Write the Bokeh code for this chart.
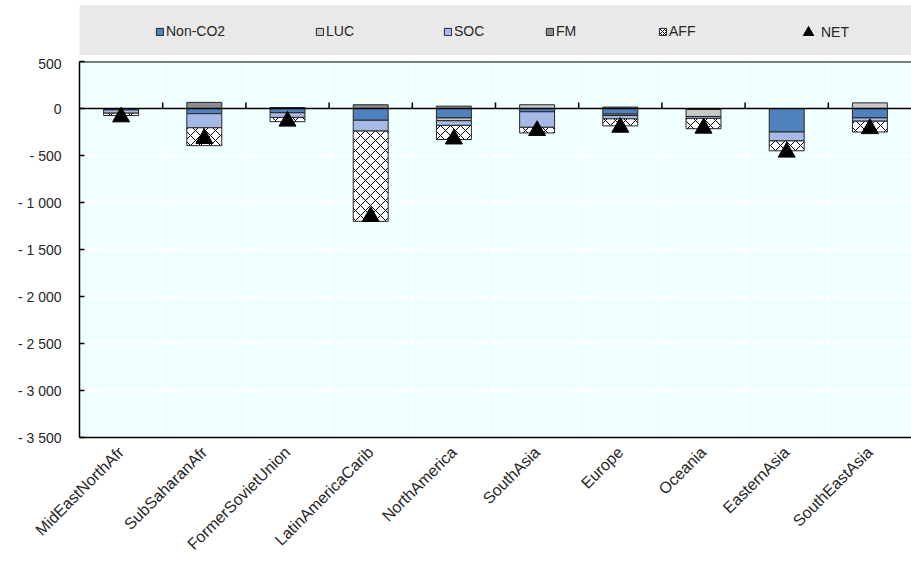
import numpy as np
from bokeh.plotting import figure
from bokeh.layouts import column
from bokeh.models import (ColumnDataSource, Legend, LegendItem, FixedTicker,
                          CustomJSTickFormatter, Span)
from bokeh.embed import file_html
from bokeh.resources import INLINE

# regions and emission components
regions = ["MidEastNorthAfr", "SubSaharanAfr", "FormerSovietUnion", "LatinAmericaCarib",
           "NorthAmerica", "SouthAsia", "Europe", "Oceania", "EasternAsia", "SouthEastAsia"]
non_co2 = [-15, -55, -45, -125, -100, -35, -60, -10, -250, -100]
luc = [0, 0, 0, 0, -30, 40, -15, -75, 0, 60]
soc = [-35, -150, -50, -115, -50, -165, -35, -20, -95, -35]
fm = [0, 65, 10, 40, 25, 0, 15, 0, 0, 0]
aff = [-25, -190, -45, -960, -150, -60, -75, -110, -105, -115]
net = [-90, -320, -135, -1150, -325, -235, -200, -210, -465, -215]

y_ticks = [-3500, -3000, -2500, -2000, -1500, -1000, -500, 0, 500]

FONT = "'Liberation Sans', Arial, sans-serif"
TXT = "#262626"

series = [
    ("Non-CO2", non_co2, "#4F81BD"),
    ("LUC", luc, "#C8C8C8"),
    ("SOC", soc, "#A7B9E6"),
    ("FM", fm, "#8C8C8C"),
    ("AFF", aff, "white"),
]

n = len(regions)
xc = np.arange(n) + 0.5

p = figure(width=911, height=506, x_range=(0, n), y_range=(-3500, 500),
           output_backend="svg", toolbar_location=None,
           min_border_left=79, min_border_right=0, min_border_top=6, min_border_bottom=120,
           background_fill_color="#F0FFFF", border_fill_color="white")
p.outline_line_color = None

# grid
p.xgrid.ticker = FixedTicker(ticks=list(range(n + 1)))
p.xgrid.grid_line_color = "white"
p.xgrid.grid_line_width = 2
p.ygrid.ticker = FixedTicker(ticks=y_ticks)
p.ygrid.grid_line_color = "white"
p.ygrid.grid_line_width = 2

# y axis
p.yaxis.ticker = FixedTicker(ticks=y_ticks)
p.yaxis.formatter = CustomJSTickFormatter(code=r"""
const a = Math.abs(tick);
const s = a.toString().replace(/\B(?=(\d{3})+(?!\d))/g, " ");
return tick < 0 ? "- " + s : s;
""")
p.yaxis.axis_line_color = "black"
p.yaxis.axis_line_width = 1.5
p.yaxis.major_tick_in = 5
p.yaxis.major_tick_out = 0
p.yaxis.major_tick_line_width = 1.5
p.yaxis.minor_tick_line_color = None
p.yaxis.major_label_text_font = FONT
p.yaxis.major_label_text_font_size = "14px"
p.yaxis.major_label_text_color = TXT
p.yaxis.major_label_standoff = 18

# x axis (labels at bottom)
p.xaxis.ticker = FixedTicker(ticks=list(xc))
p.xaxis.major_label_overrides = {float(v): r for v, r in zip(xc, regions)}
p.xaxis.major_label_orientation = np.pi / 4
p.xaxis.axis_line_color = "black"
p.xaxis.axis_line_width = 1.5
p.xaxis.major_tick_line_color = None
p.xaxis.minor_tick_line_color = None
p.xaxis.major_label_text_font = FONT
p.xaxis.major_label_text_font_size = "16px"
p.xaxis.major_label_text_color = TXT
p.xaxis.major_label_standoff = 6

# top border
p.add_layout(Span(location=500, dimension="width", line_color="black", line_width=2))

# stacked bars: positives upward, negatives downward
pos_base = np.zeros(n)
neg_base = np.zeros(n)
for name, vals, color in series:
    v = np.array(vals, dtype=float)
    bottom = np.where(v >= 0, pos_base, neg_base)
    top = bottom + v
    pos_base = np.where(v > 0, top, pos_base)
    neg_base = np.where(v < 0, top, neg_base)
    bottom = np.where(v == 0, np.nan, bottom)
    top = np.where(v == 0, np.nan, top)
    src = ColumnDataSource(dict(x=xc, bottom=bottom, top=top))
    kw = {}
    if name == "AFF":
        kw = dict(hatch_pattern="diagonal_cross", hatch_color="black",
                  hatch_scale=10, hatch_weight=1)
    p.vbar(x="x", width=0.42, bottom="bottom", top="top", source=src,
           fill_color=color, line_color="#262626", line_width=1, **kw)

# zero line with category separators
p.add_layout(Span(location=0, dimension="width", line_color="black", line_width=1.5))
bounds = np.arange(1, n)
p.segment(x0=bounds, y0=np.zeros(n - 1), x1=bounds, y1=np.full(n - 1, 65),
          line_color="black", line_width=1.5)

p.scatter(x=xc, y=net, marker="triangle", size=17, fill_color="black", line_color="black")

# legend band
lg = figure(width=911, height=55, x_range=(0, 1), y_range=(0, 1),
            output_backend="svg", toolbar_location=None,
            x_axis_location=None, y_axis_location=None,
            min_border_left=79, min_border_right=0, min_border_top=5, min_border_bottom=0,
            background_fill_color="#E9E9E9", border_fill_color="white")
lg.outline_line_color = None
lg.grid.visible = False

legend_x = [76, 236, 364, 466, 579, 724]
for (name, vals, color), lx in zip(series, legend_x):
    kw = {}
    if name == "AFF":
        kw = dict(hatch_pattern="diagonal_cross", hatch_color="black",
                  hatch_scale=4, hatch_weight=1)
    r = lg.vbar(x=[np.nan], top=[np.nan], width=0.1, fill_color=color, line_color="#262626",
                line_width=1, **kw)
    leg = Legend(items=[LegendItem(label=name, renderers=[r])], location=(lx, 16),
                 glyph_width=9, glyph_height=9, label_standoff=2, padding=0, margin=0,
                 background_fill_alpha=0, border_line_color=None,
                 label_text_font=FONT, label_text_font_size="14px",
                 label_text_color=TXT)
    lg.add_layout(leg)

rn = lg.scatter(x=[np.nan], y=[np.nan], marker="triangle", fill_color="black", line_color="black")
leg = Legend(items=[LegendItem(label="NET", renderers=[rn])], location=(legend_x[5] - 8, 10),
             glyph_width=26, glyph_height=26, label_standoff=-6, padding=0, margin=0,
             background_fill_alpha=0, border_line_color=None,
             label_text_font=FONT, label_text_font_size="14px",
             label_text_color=TXT, label_height=26)
lg.add_layout(leg)

layout = column(lg, p)
open("out.html", "w").write(file_html(layout, INLINE))
